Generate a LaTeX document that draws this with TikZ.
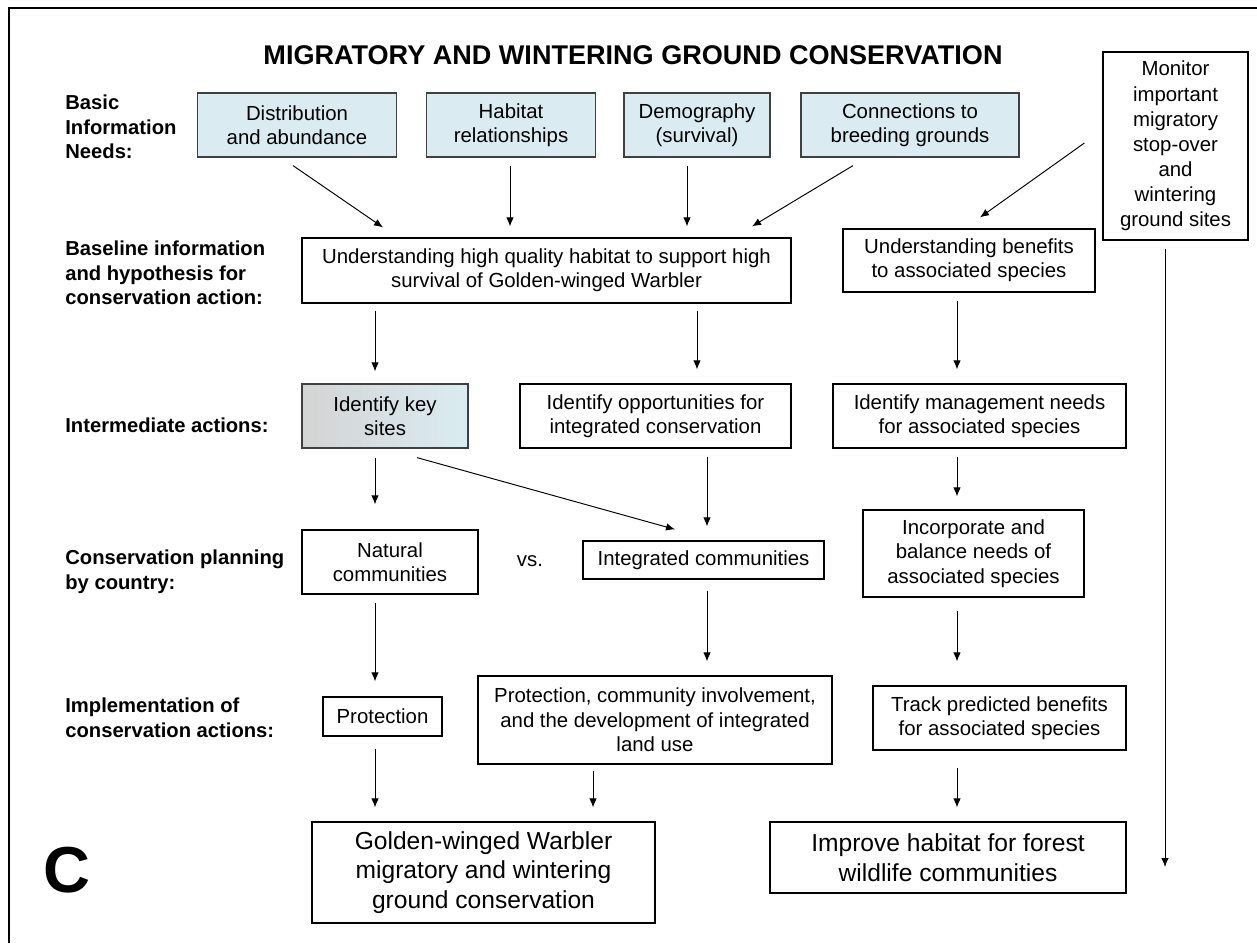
\documentclass[tikz,border=0pt]{standalone}
\usepackage{fontspec}
\setmainfont{Liberation Sans}
\usepackage{tikz}
\usetikzlibrary{arrows.meta,calc}
\definecolor{infoblue}{RGB}{218,236,242}

\begin{document}
\begin{tikzpicture}[x=0.02cm,y=-0.02cm,
    box/.style={draw,line width=0.7pt,align=center,inner sep=2pt,
      font=\fontsize{11.6}{13.9}\selectfont},
    bigbox/.style={box,font=\fontsize{14}{16.8}\selectfont},
    infobox/.style={box,fill=infoblue,draw=black!75},
    rowlabel/.style={anchor=west,align=left,inner sep=0pt,
      font=\bfseries\fontsize{11.5}{14.1}\selectfont},
    arr/.style={-{Latex[length=1.8mm,width=1.5mm]},line width=0.55pt}]
   \useasboundingbox (0,0) rectangle (1257,943);
   \draw[line width=0.9pt] (9,943) -- (9,8) -- (1257,8);
   \node[font=\bfseries\fontsize{15.4}{18}\selectfont] (title) at (633,55) {MIGRATORY AND WINTERING GROUND  CONSERVATION};
   \foreach \ly/\lt in {127/{Basic\\Information\\Needs:},273/{Baseline information\\and hypothesis for\\conservation action:},425/{Intermediate actions:},572/{Conservation planning\\by country:},718/{Implementation of\\conservation actions:}}
      \node[rowlabel] at (65,\ly) {\lt};
   \node[infobox,minimum width=3.98cm,minimum height=1.28cm] (dist) at (297,125) {Distribution\\and abundance};
   \node[infobox,minimum width=3.38cm,minimum height=1.28cm] (hab) at (511,125) {Habitat\\relationships};
   \node[infobox,minimum width=2.92cm,minimum height=1.28cm] (demo) at (697,125) {Demography\\(survival)};
   \node[infobox,minimum width=4.36cm,minimum height=1.28cm] (conn) at (910,125) {Connections to\\breeding grounds};
   \node[box,font=\fontsize{11.6}{14.3}\selectfont,minimum width=2.90cm,minimum height=3.76cm] (mon) at (1175.5,146) {Monitor\\important\\migratory\\stop-over\\and\\wintering\\ground sites};
   \node[box,minimum width=9.78cm,minimum height=1.30cm] (und) at (546.5,270.5) {Understanding high quality habitat to support high\\survival of Golden-winged Warbler};
   \node[box,minimum width=5.04cm,minimum height=1.26cm] (ben) at (969,260.5) {Understanding benefits\\to associated species};
   \node[box,left color=black!17,right color=infoblue,draw=black!75,minimum width=3.32cm,minimum height=1.28cm] (key) at (385,416) {Identify key\\sites};
   \node[box,minimum width=5.42cm,minimum height=1.28cm] (opp) at (655.5,416) {Identify opportunities for\\integrated conservation};
   \node[box,minimum width=5.86cm,minimum height=1.28cm] (mgmt) at (979.5,416) {Identify management needs\\for associated species};
   \node[box,minimum width=3.52cm,minimum height=1.28cm] (nat) at (390,562) {Natural\\communities};
   \node[font=\fontsize{11.6}{13.9}\selectfont] (vs) at (530,561) {vs.};
   \node[box,minimum width=4.82cm,minimum height=0.76cm] (intc) at (703.5,560) {Integrated communities};
   \node[box,minimum width=4.42cm,minimum height=1.74cm] (inc) at (973.5,553.5) {Incorporate and\\balance needs of\\associated species};
   \node[box,minimum width=2.38cm,minimum height=0.78cm] (prot) at (382.5,716.5) {Protection};
   \node[box,minimum width=7.08cm,minimum height=1.76cm] (pci) at (655,720) {Protection, community involvement,\\and the development of integrated\\land use};
   \node[box,minimum width=5.06cm,minimum height=1.28cm] (track) at (999.5,718) {Track  predicted benefits\\for associated species};
   \node[bigbox,minimum width=6.86cm,minimum height=2.02cm] (gold) at (483.5,872.5) {Golden-winged Warbler\\migratory and wintering\\ground conservation};
   \node[bigbox,minimum width=7.12cm,minimum height=1.42cm] (imp) at (948,857.5) {Improve habitat for forest\\wildlife communities};
   \node[font=\bfseries\fontsize{37}{37}\selectfont] (panel) at (67,870) {C};
   \coordinate (monend) at (1165,867);
   \draw[arr] ($(dist.south)+(-4,8)$) -- ($(und.north)+(-163.5,-10)$);
   \draw[arr] ($(hab.south)+(-1,8)$) -- ($(hab.south |- und.north)+(-1,-11)$);
   \draw[arr] ($(demo.south)+(-10,8)$) -- ($(demo.south |- und.north)+(-10,-11)$);
   \draw[arr] ($(conn.south)+(-57,8)$) -- ($(und.north)+(205.5,-11)$);
   \draw[arr] ($(mon.west)+(-18,-3)$) -- ($(ben.north)+(11,-11)$);
   \draw[arr] ($(mon.south)+(-10.5,8)$) -- (monend);
   \draw[arr] ($(und.south -| key.north)+(-10,7)$) -- ($(key.north)+(-10,-12)$);
   \draw[arr] ($(und.south -| opp.north)+(41.5,7)$) -- ($(opp.north)+(41.5,-14)$);
   \draw[arr] ($(ben.south -| mgmt.north)+(-22.5,8)$) -- ($(mgmt.north)+(-22.5,-14)$);
   \draw[arr] ($(key.south -| nat.north)+(-15,9)$) -- ($(nat.north)+(-15,-25)$);
   \draw[arr] ($(key.south)+(32,9)$) -- ($(intc.north)+(-28.5,-11)$);
   \draw[arr] ($(opp.south -| intc.north)+(3.5,8)$) -- ($(intc.north)+(3.5,-14)$);
   \draw[arr] ($(mgmt.south -| inc.north)+(-16.5,8)$) -- ($(inc.north)+(-16.5,-13)$);
   \draw[arr] ($(nat.south -| prot.north)+(-7.5,8)$) -- ($(prot.north)+(-7.5,-15)$);
   \draw[arr] ($(intc.south -| pci.north)+(52,11)$) -- ($(pci.north)+(52,-14)$);
   \draw[arr] ($(inc.south -| track.north)+(-42.5,13)$) -- ($(track.north)+(-42.5,-24)$);
   \draw[arr] ($(prot.south -| gold.north)+(-108.5,12)$) -- ($(gold.north)+(-108.5,-14)$);
   \draw[arr] ($(pci.south -| gold.north)+(109.5,6)$) -- ($(gold.north)+(109.5,-14)$);
   \draw[arr] ($(track.south -| imp.north)+(9,17)$) -- ($(imp.north)+(9,-14)$);
\end{tikzpicture}
\end{document}
